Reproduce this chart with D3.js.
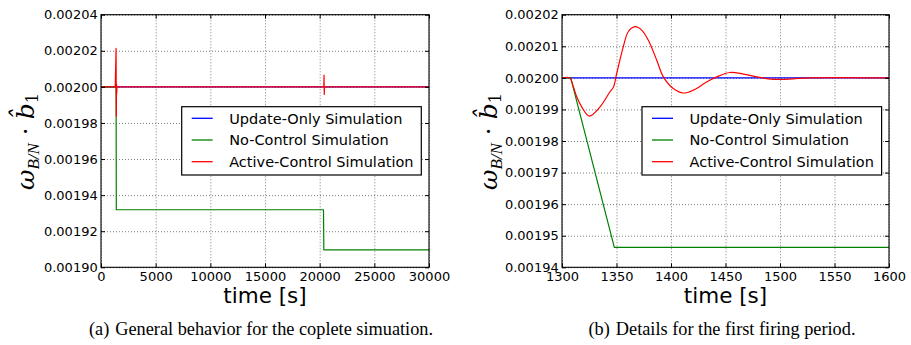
<!DOCTYPE html>
<html><head><meta charset="utf-8">
<script src="https://cdn.jsdelivr.net/npm/d3@7"></script>
<style>body{margin:0;background:#fff}</style>
</head><body><svg id="c" width="911" height="345" font-family="DejaVu Sans"></svg>
<script>
// ---------- data: panel (a) ----------
const xTicksA = [0, 5000, 10000, 15000, 20000, 25000, 30000];
const yTicksA = [0.00190, 0.00192, 0.00194, 0.00196, 0.00198, 0.00200, 0.00202, 0.00204];
const updateOnlyA = [[0, 0.002], [30000, 0.002]];
const noControlA = [[0, 0.002], [1380, 0.002], [1400, 0.0019319], [20350, 0.0019319], [20380, 0.0019097], [30000, 0.0019097]];
const activeControlA = [[0, 0.002], [1300, 0.002], [1380, 0.0020213], [1400, 0.0019837], [1420, 0.0020015], [1440, 0.0019965], [1460, 0.002],
  [20380, 0.002], [20400, 0.0020065], [20420, 0.0019958], [20440, 0.002], [30000, 0.002]];
// ---------- data: panel (b) ----------
const xTicksB = [1300, 1350, 1400, 1450, 1500, 1550, 1600];
const yTicksB = [0.00194, 0.00195, 0.00196, 0.00197, 0.00198, 0.00199, 0.00200, 0.00201, 0.00202];
const updateOnlyB = [[1300, 0.002], [1600, 0.002]];
const noControlB = [[1300, 0.002], [1308, 0.002], [1348, 0.0019463], [1600, 0.0019463]];
const activeControlB = [[1300, 0.002], [1307, 0.002], [1310.4, 0.0019972], [1313.5, 0.0019940], [1318.1, 0.0019908], [1325, 0.0019879],
  [1334.9, 0.0019908], [1344, 0.0019956], [1347.1, 0.0019970], [1350.2, 0.0020014], [1356.2, 0.0020098], [1360.8, 0.0020146],
  [1367, 0.0020162], [1373.1, 0.0020151], [1379.2, 0.0020119], [1386.9, 0.0020056], [1393, 0.0020003], [1402.1, 0.0019966],
  [1411.3, 0.0019952], [1420.5, 0.0019961], [1432.7, 0.0019987], [1441.9, 0.0020003], [1454.1, 0.0020017], [1466.3, 0.0020012],
  [1478.6, 0.0020003], [1489, 0.0019997], [1500, 0.0019995], [1512, 0.0019997], [1527, 0.002], [1600, 0.002]];
const seriesNames = ["Update-Only Simulation", "No-Control Simulation", "Active-Control Simulation"];
const seriesColors = ["#0000ff", "#008000", "#ff0000"];
const xLabel = "time [s]";
const captionA = ["(a)", "General behavior for the coplete simuation."];
const captionB = ["(b)", "Details for the first firing period."];

const svg = d3.select("#c");
svg.append("rect").attr("width", 911).attr("height", 345).attr("fill", "#fff");

function panel(p) {
  const g = svg.append("g");
  const x = d3.scaleLinear().domain(p.xDomain).range([p.left, p.right]);
  const y = d3.scaleLinear().domain(p.yDomain).range([p.bottom, p.top]);
  const W = p.right - p.left, H = p.bottom - p.top;
  const styleGrid = s => { s.select(".domain").remove();
    s.selectAll("line").attr("stroke", "#000").attr("stroke-width", 0.8).attr("stroke-dasharray", "1,2").attr("opacity", 0.65); };
  g.append("g").attr("transform", `translate(0,${p.bottom})`)
    .call(d3.axisBottom(x).tickValues(p.xTicks).tickSize(-H).tickFormat("")).call(styleGrid);
  g.append("g").attr("transform", `translate(${p.left},0)`)
    .call(d3.axisLeft(y).tickValues(p.yTicks).tickSize(-W).tickFormat("")).call(styleGrid);

  const cid = "clip" + p.id;
  g.append("clipPath").attr("id", cid).append("rect").attr("x", p.left).attr("y", p.top).attr("width", W).attr("height", H);
  const lines = g.append("g").attr("clip-path", `url(#${cid})`);
  p.series.forEach((s, i) => {
    const line = d3.line().x(d => x(d[0])).y(d => y(d[1])).curve(s.curve || d3.curveLinear);
    lines.append("path").attr("d", line(s.data)).attr("fill", "none")
      .attr("stroke", seriesColors[i]).attr("stroke-width", 1.2).attr("stroke-linejoin", "round");
  });

  g.append("rect").attr("x", p.left).attr("y", p.top).attr("width", W).attr("height", H)
    .attr("fill", "none").attr("stroke", "#000").attr("stroke-width", 1.1);

  const styleAx = s => { s.select(".domain").remove(); s.selectAll("line").attr("stroke", "#000").attr("stroke-width", 1);
    s.selectAll("text").attr("font-size", 13).attr("fill", "#000").style("font-family", "DejaVu Sans"); };
  g.append("g").attr("transform", `translate(0,${p.bottom})`)
    .call(d3.axisBottom(x).tickValues(p.xTicks).tickSize(-4).tickPadding(4.5).tickFormat(d3.format("d"))).call(styleAx);
  g.append("g").attr("transform", `translate(0,${p.top})`)
    .call(d3.axisTop(x).tickValues(p.xTicks).tickSize(-4).tickFormat("")).call(styleAx);
  g.append("g").attr("transform", `translate(${p.left},0)`)
    .call(d3.axisLeft(y).tickValues(p.yTicks).tickSize(-4).tickPadding(3.3).tickFormat(d3.format(".5f"))).call(styleAx);
  g.append("g").attr("transform", `translate(${p.right},0)`)
    .call(d3.axisRight(y).tickValues(p.yTicks).tickSize(-4).tickFormat("")).call(styleAx);

  // x label
  g.append("text").attr("x", (p.left + p.right) / 2).attr("y", 303).attr("text-anchor", "middle")
    .style("font-family", "DejaVu Sans").attr("font-size", 21.5).text(xLabel);

  // y label
  const yl = g.append("text").attr("transform", `translate(${p.ylx},190) rotate(-90)`)
    .style("font-family", "'DejaVu Serif', 'Liberation Serif', serif").attr("font-size", 25).attr("text-anchor", "start");
  yl.append("tspan").style("font-style", "italic").text("ω");
  yl.append("tspan").attr("font-size", 17).attr("dy", 5).style("font-style", "italic")
    .style("font-family", "'Liberation Serif', serif").text("B/N");
  yl.append("tspan").attr("dy", -5).text(" · ");
  yl.append("tspan").style("font-style", "italic").text("b\u0302");
  yl.append("tspan").attr("font-size", 16).attr("dy", 4).text("1");

  // legend
  const lg = g.append("g").attr("transform", `translate(${p.legX},106.7)`);
  lg.append("rect").attr("width", 239.6).attr("height", 68.3).attr("fill", "#fff").attr("stroke", "#000").attr("stroke-width", 1.2);
  seriesNames.forEach((n, i) => {
    const yy = 11.6 + i * 21.7;
    lg.append("line").attr("x1", 10).attr("x2", 31).attr("y1", yy).attr("y2", yy).attr("stroke", seriesColors[i]).attr("stroke-width", 1.3);
    lg.append("text").attr("x", 47.5).attr("y", yy).attr("dy", "0.36em").style("font-family", "DejaVu Sans").attr("font-size", 14.5).text(n);
  });

  // caption
  const cap = g.append("text").attr("x", p.capX).attr("y", 335).attr("text-anchor", "middle")
    .style("font-family", "'Liberation Serif', serif").attr("font-size", 18.3);
  cap.append("tspan").text(p.caption[0]);
  cap.append("tspan").attr("dx", 6).text(p.caption[1]);
}

panel({ id: "a", left: 101, right: 429, top: 14.7, bottom: 267.3, xDomain: [0, 30000], yDomain: [0.00190, 0.00204],
  xTicks: xTicksA, yTicks: yTicksA, ylx: 33.5, legX: 181.7, capX: 261, caption: captionA,
  series: [{ data: updateOnlyA }, { data: noControlA }, { data: activeControlA }] });
panel({ id: "b", left: 562, right: 889, top: 14.7, bottom: 267.3, xDomain: [1300, 1600], yDomain: [0.00194, 0.00202],
  xTicks: xTicksB, yTicks: yTicksB, ylx: 497, legX: 642, capX: 722, caption: captionB,
  series: [{ data: updateOnlyB }, { data: noControlB }, { data: activeControlB, curve: d3.curveCatmullRom.alpha(0.5) }] });
</script></body></html>
